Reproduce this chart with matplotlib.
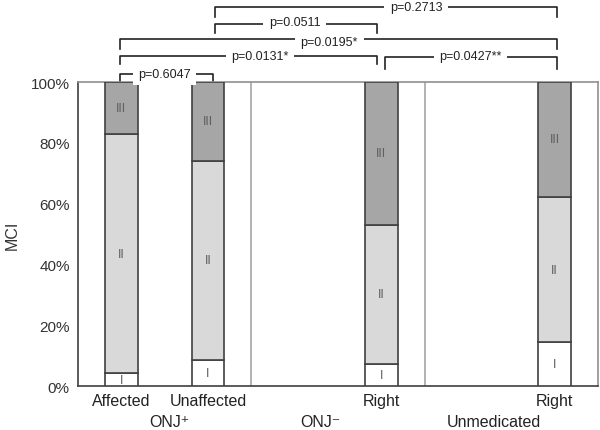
import matplotlib
matplotlib.use("Agg")
import matplotlib.pyplot as plt
import numpy as np

plt.rcParams['font.family'] = ['Liberation Sans', 'DejaVu Sans']

# bar data (percent)
bar_labels = ["Affected", "Unaffected", "Right", "Right"]
bar_pos = [0, 1, 3, 5]
grade_I = [4.2, 8.5, 7.2, 14.4]
grade_II = [78.7, 65.6, 45.9, 47.8]
grade_III = [17.1, 25.9, 46.9, 37.8]

group_labels = ["ONJ\u207a", "ONJ\u207b", "Unmedicated"]
group_x = [0.55, 2.3, 4.3]

# brackets: x left, x right, line height (axes frac), tick bottom, text, text x, text y
brackets = [
    (-0.02, 1.06, 1.027, 0.993, "p=0.6047", 0.5, 1.027),
    (-0.02, 2.95, 1.084, 1.059, "p=0.0131*", 1.6, 1.087),
    (3.04, 5.03, 1.083, 1.044, "p=0.0427**", 4.03, 1.087),
    (-0.02, 5.03, 1.140, 1.109, "p=0.0195*", 2.4, 1.130),
    (1.08, 2.95, 1.192, 1.161, "p=0.0511", 2.0, 1.197),
    (1.08, 5.03, 1.248, 1.214, "p=0.2713", 3.4, 1.248),
]

fig = plt.figure(figsize=(6, 4.31), dpi=100)
ax = fig.add_axes([0.13, 0.102, 0.8667, 0.7054])

width = 0.38
seg_colors = ["white", "#d9d9d9", "#a6a6a6"]
seg_names = ["I", "II", "III"]
bottom = np.zeros(len(bar_pos))
for vals, col, name in zip([grade_I, grade_II, grade_III], seg_colors, seg_names):
    vals = np.array(vals)
    ax.bar(bar_pos, vals, width=width, bottom=bottom, color=col,
           edgecolor="#404040", linewidth=1.2, zorder=3)
    for x, b, v in zip(bar_pos, bottom, vals):
        ax.text(x, b + v / 2, name, ha="center", va="center", fontsize=9,
                color="#606060", zorder=4)
    bottom += vals

for sx in [1.5, 3.5]:
    ax.axvline(sx, color="#a6a6a6", linewidth=1.2, zorder=1)

ax.set_xlim(-0.5, 5.5)
ax.set_ylim(0, 100)
ax.set_yticks([0, 20, 40, 60, 80, 100])
ax.set_yticklabels([f"{t}%" for t in range(0, 101, 20)], fontsize=11, color="#333333")
ax.set_xticks(bar_pos)
ax.set_xticklabels(bar_labels, fontsize=11.5, color="#222222")
ax.tick_params(length=0, pad=6)
ax.tick_params(axis="x", pad=5)
ax.set_ylabel("MCI", fontsize=11.5, color="#333333", labelpad=8)

for side in ["left", "bottom"]:
    ax.spines[side].set_color("#404040")
    ax.spines[side].set_linewidth(1.2)
for side in ["top", "right"]:
    ax.spines[side].set_color("#909090")
    ax.spines[side].set_linewidth(1.2)

trans = ax.get_xaxis_transform()
for gx, gl in zip(group_x, group_labels):
    ax.text(gx, -0.118, gl, transform=trans, ha="center", va="center",
            fontsize=11.5, color="#222222")

for x1, x2, yl, yb, txt, tx, ty in brackets:
    ax.plot([x1, x1, x2, x2], [yb, yl, yl, yb], transform=trans, color="#222222",
            linewidth=1.2, clip_on=False)
    ax.text(tx, ty, txt, transform=trans, ha="center", va="center", fontsize=9,
            color="#222222",
            bbox=dict(facecolor="white", edgecolor="none", pad=4))

fig.savefig("out.png", dpi=100)
